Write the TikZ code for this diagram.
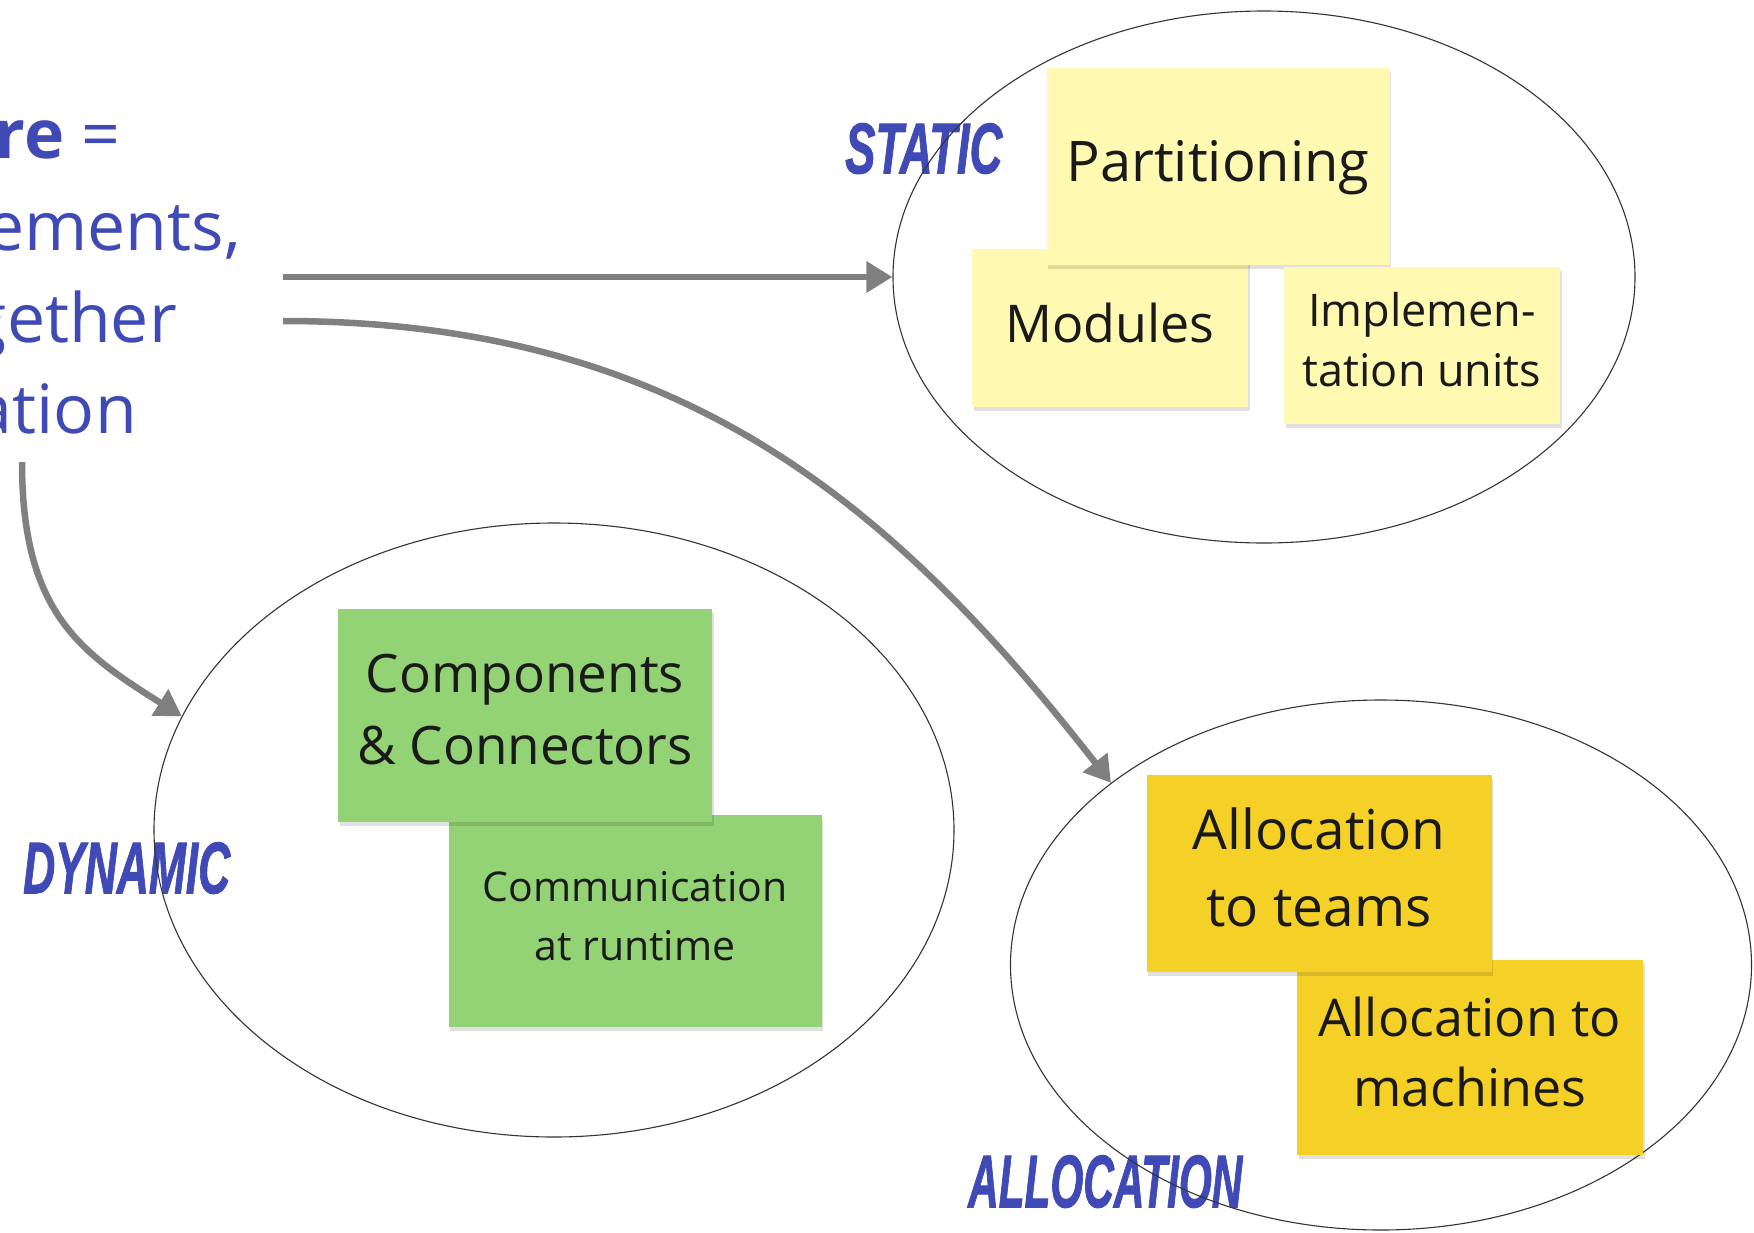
\documentclass[tikz,border=0pt]{standalone}
\usepackage{fontspec}
\usepackage{graphicx}
\setmainfont{Open Sans}
\newfontfamily\tagfont[FakeBold=1.5]{Liberation Sans}
\usetikzlibrary{arrows.meta,shapes.geometric,shadows}

\definecolor{inkblue}{HTML}{3F4AB6}
\definecolor{notepale}{HTML}{FFF9B1}
\definecolor{notegreen}{HTML}{93D375}
\definecolor{notegold}{HTML}{F5D128}
\definecolor{arrowgray}{HTML}{808080}
\definecolor{notetext}{HTML}{1A1A1A}

\begin{document}
\begin{tikzpicture}[x=1pt,y=-1pt,
  view/.style={ellipse, draw=black!80, line width=1.1pt, inner sep=0pt},
  note/.style={rectangle, inner sep=0pt, align=center, text=notetext, text depth=11pt,
    drop shadow={shadow xshift=1.5pt, shadow yshift=-4pt, opacity=0.12, fill=black}},
  tag/.style={text=inkblue, inner sep=0pt, anchor=north west},
  leftline/.style={text=inkblue, inner sep=0pt, anchor=base east,
    font=\fontsize{68}{80}\selectfont},
  flow/.style={draw=arrowgray, line width=6.5pt, -{Triangle[length=26pt,width=30pt]}}
]
\useasboundingbox (0,0) rectangle (1754,1232);
\clip (0,0) rectangle (1754,1232);

% definition text on the left
\node[leftline] (defa) at (121,158) {\textbf{re} =};
\node[leftline] (defb) at (241,250) {ements,};
\node[leftline] (defc) at (177,342) {gether};
\node[leftline] (defd) at (137,433) {ation};

% view labels
\node[tag] (lstatic) at (845,123) {\resizebox{157pt}{50pt}{\tagfont\bfseries\itshape STATIC}};
\node[tag] (ldynamic) at (23,842) {\resizebox{207pt}{51pt}{\tagfont\bfseries\itshape DYNAMIC}};
\node[tag] (lalloc) at (968,1155) {\resizebox{274pt}{52pt}{\tagfont\bfseries\itshape ALLOCATION}};

% the three views
\node[view, minimum width=742pt, minimum height=532pt] (static) at (1264,277) {};
\node[view, minimum width=800pt, minimum height=614pt] (dyn) at (554,830) {};
\node[view, minimum width=741pt, minimum height=530pt] (alloc) at (1381,965) {};

% static view notes
\node[note, fill=notepale, minimum width=276pt, minimum height=158pt,
  font=\fontsize{52}{70}\selectfont] (modules) at (1110,328) {Modules};
\node[note, fill=notepale, minimum width=343pt, minimum height=197pt,
  font=\fontsize{56}{72}\selectfont] (part) at (1218,166) {Partitioning};
\node[note, fill=notepale, minimum width=276pt, minimum height=157pt,
  font=\fontsize{45}{60}\selectfont] (impl) at (1422,345) {Implemen-\\tation units};

% dynamic view notes
\node[note, fill=notegreen, minimum width=373pt, minimum height=212pt,
  font=\fontsize{41}{59}\selectfont] (comm) at (635,921) {Communication\\at runtime};
\node[note, fill=notegreen, minimum width=374pt, minimum height=213pt,
  font=\fontsize{53}{72}\selectfont] (comp) at (525,715) {Components\\\& Connectors};

% allocation view notes
\node[note, fill=notegold, minimum width=346pt, minimum height=195pt,
  font=\fontsize{52}{70}\selectfont] (mach) at (1470,1057) {Allocation to\\machines};
\node[note, fill=notegold, minimum width=345pt, minimum height=197pt,
  font=\fontsize{55}{77}\selectfont] (teams) at (1319,873) {Allocation\\to teams};

% connectors from the definition to the views
\coordinate (fromstatic) at (283,277);
\coordinate (fromalloc) at (283,321);
\coordinate (fromdyn) at (22,462);
\draw[flow] (fromstatic) -- (static.west);
\draw[flow] (fromalloc) .. controls +(400,0) and +(-216,-276) .. (alloc.146);
\draw[flow] (fromdyn) .. controls +(0,150) and +(-102,-64) .. (dyn.163);
\end{tikzpicture}
\end{document}
